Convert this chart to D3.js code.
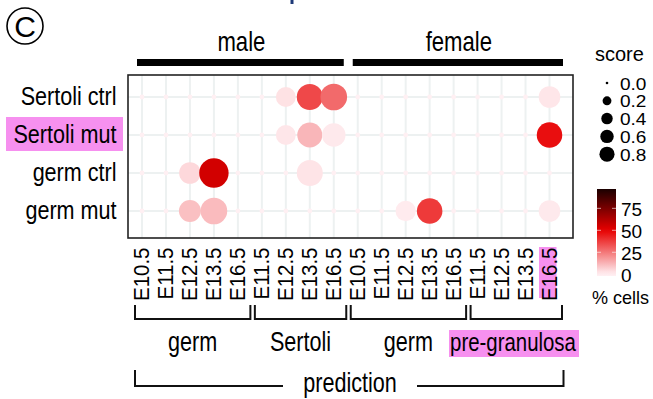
<!DOCTYPE html>
<html><head><meta charset="utf-8">
<script src="https://cdn.jsdelivr.net/npm/d3@7"></script>
<style>body{margin:0;background:#fff}svg{display:block}text{font-family:"Liberation Sans",Arial,Helvetica,sans-serif;fill:#000}</style>
</head><body>
<script>
// ---------- data ----------
const rows = ["Sertoli ctrl", "Sertoli mut", "germ ctrl", "germ mut"];
const stages = ["E10.5","E11.5","E12.5","E13.5","E16.5","E11.5","E12.5","E13.5","E16.5",
                "E10.5","E11.5","E12.5","E13.5","E16.5","E11.5","E12.5","E13.5","E16.5"];
const groupLabels = ["germ", "Sertoli", "germ", "pre-granulosa"];
const groupSizes = [5, 4, 5, 4];
const sexLabels = ["male", "female"];
const sexSizes = [9, 9];
// score (dot size) per row x column
const scores = [
  [0,0,0,0,0,0,0.34,0.67,0.71,0,0,0,0,0,0,0,0,0.42],
  [0,0,0,0,0,0,0.34,0.61,0.52,0,0,0,0,0,0,0,0,0.64],
  [0,0,0.42,0.90,0,0,0,0.67,0,0,0,0,0,0,0,0,0,0],
  [0,0,0.44,0.71,0,0,0,0,0,0,0,0.36,0.64,0,0,0,0,0.42]
];
// % cells (colour) per row x column
const pcts = [
  [0,0,0,0,0,0,3,35,28,0,0,0,0,0,0,0,0,2],
  [0,0,0,0,0,0,2,12,1.5,0,0,0,0,0,0,0,0,47],
  [0,0,5,55,0,0,0,2.5,0,0,0,0,0,0,0,0,0,0],
  [0,0,10,11,0,0,0,0,0,0,0,1,38,0,0,0,0,1.5]
];
const sizeLegend = [0, 0.2, 0.4, 0.6, 0.8];
const colorTicks = [0, 25, 50, 75];
const colorMax = 97;

// ---------- setup ----------
const W = 653, H = 399, PINK = "#f690ef";
const svg = d3.select("body").append("svg").attr("width", W).attr("height", H);

function txt(x, y, s, size, sx, anchor, extra) {
  return svg.append("text")
    .attr("transform", `translate(${x},${y}) scale(${sx},1)` + (extra || ""))
    .attr("text-anchor", anchor || "start")
    .style("font-size", size + "px")
    .text(s);
}

const cols = d3.range(stages.length);
const x = d3.scalePoint().domain(cols).range([142, 549.5]);
const y = d3.scalePoint().domain(rows).range([97, 211]);
const sizeBase = d3.scaleSqrt().domain([0, 1]).range([0, 7]);
const rLegend = s => 1.3 + sizeBase(s);
const rPlot = s => rLegend(s) * 1.85;
const color = d3.scaleLinear().domain([0, 50, colorMax])
  .range(["#fff0f3", "#e80000", "#1a0000"]).interpolate(d3.interpolateRgb);

// panel
const pL = x(0) - 14, pR = x(17) + 23.5, pT = y(rows[0]) - 22, pB = y(rows[3]) + 27;

// grid
const grid = svg.append("g");
grid.selectAll("line.v").data(cols).join("line")
  .attr("x1", d => x(d)).attr("x2", d => x(d)).attr("y1", pT).attr("y2", pB)
  .attr("stroke", "#edf1f1").attr("stroke-width", 2);
grid.selectAll("line.h").data(rows).join("line")
  .attr("y1", d => y(d)).attr("y2", d => y(d)).attr("x1", pL).attr("x2", pR)
  .attr("stroke", "#edf1f1").attr("stroke-width", 2);

// dots
const cells = [];
rows.forEach((r, ri) => cols.forEach(c => cells.push({r, c, s: scores[ri][c], p: pcts[ri][c]})));
svg.append("g").selectAll("circle").data(cells).join("circle")
  .attr("cx", d => x(d.c)).attr("cy", d => y(d.r))
  .attr("r", d => rPlot(d.s)).attr("fill", d => color(d.p));

// panel border
svg.append("rect").attr("x", pL).attr("y", pT).attr("width", pR - pL).attr("height", pB - pT)
  .attr("fill", "none").attr("stroke", "#222").attr("stroke-width", 1.6);

// y labels
svg.append("rect").attr("x", 6).attr("y", y(rows[1]) - 18).attr("width", 117).attr("height", 34).attr("fill", PINK);
rows.forEach(r => txt(116.5, y(r) + 7.5, r, 26, 0.83, "end"));

// x labels
svg.append("rect").attr("x", x(17) - 10.5).attr("y", 247).attr("width", 17.5).attr("height", 51).attr("fill", PINK);
stages.forEach((s, i) => txt(x(i) + 7, 247.5, s, 20.5, 1.05, "end", " rotate(-90)"));

// top sex bars
let start = 0;
sexLabels.forEach((lab, k) => {
  const a = x(start) - 5, b = x(start + sexSizes[k] - 1) + (k === 0 ? 10 : 13.5);
  svg.append("rect").attr("x", a).attr("y", 59).attr("width", b - a).attr("height", 7).attr("fill", "#000");
  txt((a + b) / 2 + 1, 51, lab, 27, 0.82, "middle");
  start += sexSizes[k];
});

// bottom group brackets
start = 0;
groupLabels.forEach((lab, k) => {
  const a = x(start) - 7, b = x(start + groupSizes[k] - 1) + 12.5;
  svg.append("path").attr("d", `M${a},305V319H${b}V305`).attr("fill", "none").attr("stroke", "#111").attr("stroke-width", 2);
  const cx = (a + b) / 2;
  if (k === 3) svg.append("rect").attr("x", 449).attr("y", 330).attr("width", 130).attr("height", 27).attr("fill", PINK);
  txt(k === 3 ? 513 : cx, 351, lab, k === 3 ? 25.5 : 27, 0.8, "middle");
  start += groupSizes[k];
});

// prediction bracket
const qa = x(0) - 7, qb = x(17) + 14;
svg.append("path").attr("d", `M${qa},370V386H283`).attr("fill", "none").attr("stroke", "#111").attr("stroke-width", 2);
svg.append("path").attr("d", `M417,386H${qb}V370`).attr("fill", "none").attr("stroke", "#111").attr("stroke-width", 2);
txt(350, 392, "prediction", 27, 0.8, "middle");

// size legend
txt(595, 61, "score", 20, 1.0, "start");
sizeLegend.forEach((s, i) => {
  const cy = 83 + i * 17.8;
  svg.append("circle").attr("cx", 607).attr("cy", cy).attr("r", rLegend(s)).attr("fill", "#000");
  txt(620, cy + 6.5, s.toFixed(1), 17, 1.12, "start");
});

// colour legend
const cbY = d3.scaleLinear().domain([-2, colorMax]).range([276, 189]);
const defs = svg.append("defs");
const grad = defs.append("linearGradient").attr("id", "cg").attr("x1", 0).attr("x2", 0).attr("y1", 1).attr("y2", 0);
d3.range(0, 1.0001, 0.05).forEach(t => {
  const v = -2 + t * (colorMax + 2);
  grad.append("stop").attr("offset", t).attr("stop-color", color(Math.max(0, v)));
});
svg.append("rect").attr("x", 597).attr("y", cbY(colorMax)).attr("width", 19).attr("height", cbY(-2) - cbY(colorMax)).attr("fill", "url(#cg)");
colorTicks.forEach(t => {
  if (t > 0) {
    svg.append("line").attr("x1", 597).attr("x2", 601).attr("y1", cbY(t)).attr("y2", cbY(t)).attr("stroke", "#fff").attr("stroke-opacity", 0.6);
    svg.append("line").attr("x1", 612).attr("x2", 616).attr("y1", cbY(t)).attr("y2", cbY(t)).attr("stroke", "#fff").attr("stroke-opacity", 0.6);
  }
  txt(621, cbY(t) + 7.5, String(t), 19, 1.0, "start");
});
txt(592, 304, "% cells", 19, 0.95, "start");

// panel tag
svg.append("circle").attr("cx", 25).attr("cy", 26).attr("r", 18).attr("fill", "none").attr("stroke", "#000").attr("stroke-width", 1.6);
svg.append("text").attr("x", 25).attr("y", 37).attr("text-anchor", "middle").style("font-size", "30px").text("C");
// cut-off fragment at top edge
svg.append("rect").attr("x", 290.5).attr("y", 0).attr("width", 3).attr("height", 4).attr("fill", "#1e3a78");
</script>
</body></html>
